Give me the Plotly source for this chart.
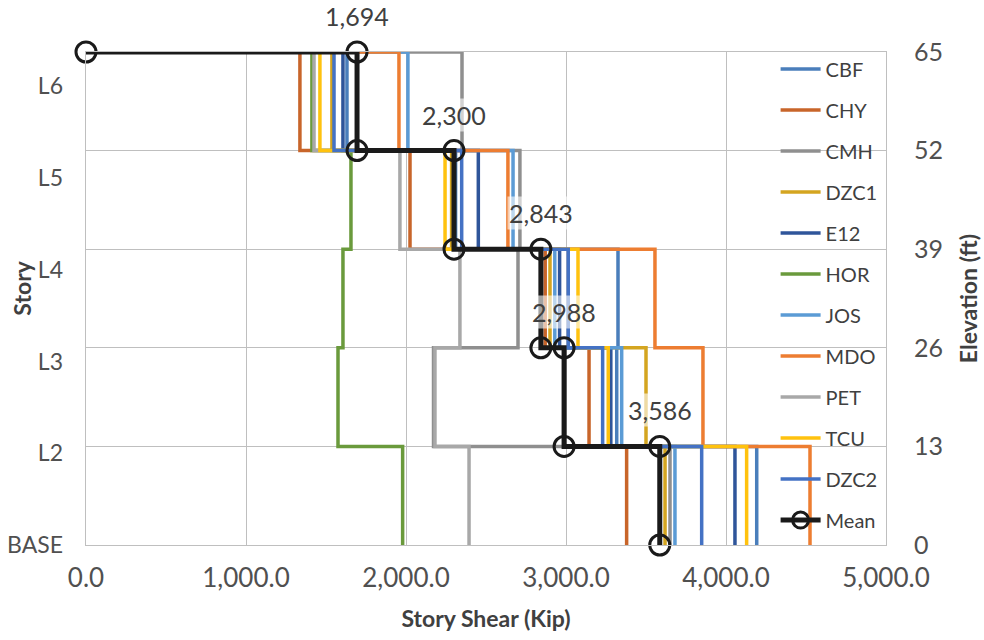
import plotly.graph_objects as go

# Floor elevations (ft), roof down to base
elevations = [65, 52, 39, 26, 13, 0]
story_labels = ["BASE", "L2", "L3", "L4", "L5", "L6"]
story_label_pos = [0, 12.1, 24.2, 36.3, 48.4, 60.5]
elev_ticks = [0, 13, 26, 39, 52, 65]

# Story shear (kip) per record, top story (L6) down to bottom story (L2)
records = ["CBF", "CHY", "CMH", "DZC1", "E12", "HOR", "JOS", "MDO", "PET", "TCU", "DZC2"]
CBF = [1631, 2310, 3325, 3317, 4192]
CHY = [1337, 2025, 2870, 3144, 3379]
CMH = [2350, 2712, 2700, 2172, 3650]
DZC1 = [1537, 2285, 2900, 3500, 3619]
E12 = [1606, 2452, 2960, 3280, 4056]
HOR = [1412, 1656, 1606, 1575, 1979]
JOS = [2012, 2669, 2930, 3348, 3681]
MDO = [1956, 2637, 3556, 3856, 4525]
PET = [1425, 1962, 2337, 2181, 2394]
TCU = [1462, 2244, 3075, 3264, 4129]
DZC2 = [1550, 2348, 3014, 3229, 3848]
MEAN = [1694, 2300, 2843, 2988, 3586]

series = {
    "CBF": CBF, "CHY": CHY, "CMH": CMH, "DZC1": DZC1, "E12": E12, "HOR": HOR,
    "JOS": JOS, "MDO": MDO, "PET": PET, "TCU": TCU, "DZC2": DZC2,
}
colors = {
    "CBF": "#4A7EBB", "CHY": "#C8652A", "CMH": "#8F8F8F", "DZC1": "#D4A520",
    "E12": "#2F559A", "HOR": "#6A9A3C", "JOS": "#5B9BD5", "MDO": "#ED7D31",
    "PET": "#A8A8A8", "TCU": "#FFC20E", "DZC2": "#4472C4",
}


def step_profile(shears):
    """Build the stepped shear profile: start at x=0 on the roof, then a
    vertical run at each story's shear between its two floor levels."""
    xs, ys = [0], [elevations[0]]
    for i, v in enumerate(shears):
        xs += [v, v]
        ys += [elevations[i], elevations[i + 1]]
    return xs, ys


fig = go.Figure()

for name in records:
    xs, ys = step_profile(series[name])
    fig.add_trace(go.Scatter(
        x=xs, y=ys, mode="lines", name=name, legendgroup=name,
        line=dict(color=colors[name], width=3.5),
    ))

mx, my = step_profile(MEAN)
fig.add_trace(go.Scatter(
    x=mx, y=my, mode="lines+markers", name="Mean", legendgroup="Mean",
    line=dict(color="#1A1A1A", width=5), cliponaxis=False,
    marker=dict(symbol="circle-open", size=20, color="#1A1A1A", line=dict(width=3)),
))

# story labels axis (left side)
fig.add_trace(go.Scatter(x=[None], y=[None], yaxis="y2", showlegend=False,
                         hoverinfo="skip"))

# value labels for the mean profile, placed at the top of each story
for i, v in enumerate(MEAN):
    fig.add_annotation(
        x=v, y=elevations[i], text=f"{v:,}", showarrow=False, yshift=36,
        font=dict(family="Lato", size=25, color="#404040"),
        bgcolor="rgba(255,255,255,0.6)",
    )

grid = "#BFBFBF"
title_font = dict(family="Lato", size=23, color="#404040")

# left axis title
fig.add_annotation(
    x=-0.08, y=0.52, xref="paper", yref="paper", text="<b>Story</b>",
    xanchor="center", yanchor="middle",
    textangle=-90, showarrow=False, font=title_font,
)

fig.update_layout(
    width=984, height=640,
    margin=dict(l=86, r=98, t=52, b=95),
    paper_bgcolor="white", plot_bgcolor="white",
    font=dict(family="Lato", size=23, color="#505050"),
    xaxis=dict(
        range=[0, 5000], tickvals=[0, 1000, 2000, 3000, 4000, 5000],
        tickformat=",.1f", showgrid=True, gridcolor=grid, gridwidth=1,
        showline=True, linecolor=grid, mirror=True, zeroline=False,
        ticks="", ticklabelstandoff=10, automargin=False,
        tickfont=dict(size=26),
        title=dict(text="<b>Story Shear (Kip)</b>", standoff=18, font=title_font),
    ),
    yaxis=dict(
        range=[0, 65], tickvals=elev_ticks, side="right",
        showgrid=True, gridcolor=grid, gridwidth=1,
        showline=True, linecolor=grid, mirror=True, zeroline=False,
        ticks="", ticklabelstandoff=22, automargin=False,
        tickfont=dict(size=25),
        title=dict(text="<b>Elevation (ft)</b>", standoff=18, font=title_font),
    ),
    yaxis2=dict(
        range=[0, 65], overlaying="y", side="left",
        tickvals=story_label_pos, ticktext=story_labels,
        showgrid=False, zeroline=False, showline=False, ticks="",
        ticklabelstandoff=22, automargin=False,
    ),
    legend=dict(
        x=0.862, y=1.005, xanchor="left", yanchor="top",
        bgcolor="rgba(0,0,0,0)", font=dict(size=20, color="#404040"),
        tracegroupgap=12, itemwidth=40, maxheight=620,
    ),
    showlegend=True,
)

fig.write_html("out.html")
